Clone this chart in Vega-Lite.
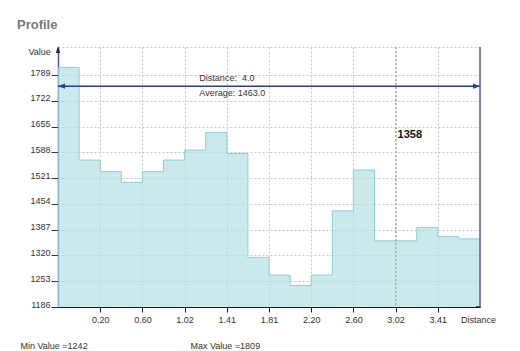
{
  "$schema": "https://vega.github.io/schema/vega-lite/v6.json",
  "width": 422,
  "height": 260,
  "autosize": {"type": "none"},
  "padding": {"left": 58, "top": 47, "right": 40, "bottom": 44},
  "background": "#ffffff",
  "title": {"text": "Profile", "anchor": "start", "frame": "group", "dx": -41, "offset": 14, "font": "Liberation Sans", "fontSize": 13, "fontWeight": "bold", "color": "#747a7a"},
  "config": {
    "font": "Liberation Sans",
    "view": {"stroke": "#c6c6c6", "strokeDash": [2, 2], "strokeWidth": 1},
    "axis": {"labelFont": "Liberation Sans", "labelFontSize": 9, "labelColor": "#333333", "titleFont": "Liberation Sans", "titleFontSize": 9, "titleFontWeight": "normal", "titleColor": "#333333", "labelFlush": false, "labelOverlap": false}
  },
  "datasets": {
    "profile": [
      {"distance": 0.0, "value": 1809},
      {"distance": 0.2, "value": 1568},
      {"distance": 0.4, "value": 1538},
      {"distance": 0.6, "value": 1510},
      {"distance": 0.8, "value": 1538},
      {"distance": 1.0, "value": 1568},
      {"distance": 1.2, "value": 1594},
      {"distance": 1.4, "value": 1640},
      {"distance": 1.6, "value": 1585},
      {"distance": 1.8, "value": 1315},
      {"distance": 2.0, "value": 1269},
      {"distance": 2.2, "value": 1242},
      {"distance": 2.4, "value": 1269},
      {"distance": 2.6, "value": 1436},
      {"distance": 2.8, "value": 1542},
      {"distance": 3.0, "value": 1358},
      {"distance": 3.2, "value": 1358},
      {"distance": 3.4, "value": 1393},
      {"distance": 3.6, "value": 1369},
      {"distance": 3.8, "value": 1363},
      {"distance": 4.0, "value": 1363}
    ],
    "cursor": [{"distance": 3.2, "value": 1358}],
    "measure": [{"start": 0, "end": 4.0, "distance": 4.0, "average": 1463.0}]
  },
  "layer": [
    {
      "data": {"name": "profile"},
      "mark": {"type": "area", "interpolate": "step-after", "color": "#b3dfe3", "clip": true, "line": {"color": "#8ccfd8", "strokeWidth": 1}},
      "encoding": {
        "x": {"field": "distance", "type": "quantitative", "scale": {"domain": [0, 4], "nice": false, "zero": false},
          "axis": {"orient": "bottom", "values": [0.4, 0.8, 1.2, 1.6, 2.0, 2.4, 2.8, 3.2, 3.6], "tickCount": 20,
            "labelExpr": "['0.20','0.60','1.02','1.41','1.81','2.20','2.60','3.02','3.41'][round(datum.value/0.4)-1]",
            "labelOverlap": false,
            "domainColor": "#1a1a1a", "tickColor": "#1a1a1a", "tickSize": 5, "labelPadding": 3,
            "grid": true, "gridColor": "#c6c6c6", "gridDash": [2, 2],
            "title": "Distance", "titleX": 420, "titleY": 8, "titleAlign": "center", "titleBaseline": "top"}},
        "y": {"field": "value", "type": "quantitative", "scale": {"domain": [1186, 1862], "nice": false, "zero": false},
          "axis": {"values": [1186, 1253, 1320, 1387, 1454, 1521, 1588, 1655, 1722, 1789], "format": "d",
            "tickCount": 20, "labelOverlap": false,
            "domainColor": "#4a58a0", "domainWidth": 1.5, "tickColor": "#333333", "tickSize": 7, "labelPadding": 1,
            "labelBaseline": "alphabetic", "grid": true, "gridColor": "#c6c6c6", "gridDash": [2, 2],
            "title": "Value", "titleAngle": 0, "titleX": -30, "titleY": 4, "titleAlign": "left", "titleBaseline": "middle"}}
      }
    },
    {
      "data": {"name": "cursor"},
      "mark": {"type": "rule", "color": "#9ab55a", "strokeDash": [2, 2], "strokeWidth": 1.2},
      "encoding": {
        "x": {"field": "distance", "type": "quantitative",
          "axis": {"orient": "bottom", "domain": false, "ticks": false, "labels": false, "grid": false,
            "title": "Min Value =1242", "titleX": -38, "titleY": 38, "titleAlign": "left", "titleBaseline": "middle"}}
      }
    },
    {
      "data": {"name": "cursor"},
      "mark": {"type": "text", "align": "left", "dx": 2, "fontSize": 11, "fontWeight": "bold", "color": "#111111", "baseline": "middle"},
      "encoding": {
        "x": {"field": "distance", "type": "quantitative", "axis": null},
        "y": {"datum": 1633},
        "text": {"field": "value", "type": "quantitative", "format": "d"}
      }
    },
    {
      "data": {"name": "measure"},
      "mark": {"type": "rule", "color": "#2b3c95", "strokeWidth": 1.5},
      "encoding": {
        "x": {"field": "start", "type": "quantitative", "axis": null},
        "x2": {"field": "end"},
        "y": {"datum": 1760}
      }
    },
    {
      "data": {"name": "measure"},
      "mark": {"type": "point", "shape": "M0,0L2,-0.75L2,0.75Z", "filled": true, "size": 49, "color": "#2b3c95", "opacity": 1},
      "encoding": {
        "x": {"field": "start", "type": "quantitative", "axis": null},
        "y": {"datum": 1760}
      }
    },
    {
      "data": {"name": "measure"},
      "mark": {"type": "point", "shape": "M0,0L-2,-0.75L-2,0.75Z", "filled": true, "size": 49, "color": "#2b3c95", "opacity": 1},
      "encoding": {
        "x": {"field": "end", "type": "quantitative", "axis": null},
        "y": {"datum": 1760}
      }
    },
    {
      "data": {"name": "measure"},
      "mark": {"type": "text", "align": "left", "baseline": "middle", "fontSize": 9, "color": "#333333", "text": "Distance:\u00a0 4.0"},
      "encoding": {
        "x": {"datum": 1.34, "axis": null},
        "y": {"datum": 1781}
      }
    },
    {
      "data": {"name": "measure"},
      "mark": {"type": "text", "align": "left", "baseline": "middle", "fontSize": 9, "color": "#333333", "text": "Average: 1463.0"},
      "encoding": {
        "x": {"datum": 1.34, "axis": null},
        "y": {"datum": 1742}
      }
    },
    {
      "data": {"name": "measure"},
      "mark": {"type": "rule", "color": "#5c5ea6", "strokeWidth": 1.5},
      "encoding": {
        "x": {"field": "end", "type": "quantitative",
          "axis": {"orient": "bottom", "domain": false, "ticks": false, "labels": false, "grid": false,
            "title": "Max Value =1809", "titleX": 132, "titleY": 38, "titleAlign": "left", "titleBaseline": "middle"}}
      }
    },
    {
      "data": {"name": "measure"},
      "mark": {"type": "point", "shape": "M0,-0.3L-0.7,2L0.7,2Z", "filled": true, "size": 36, "color": "#222222", "opacity": 1},
      "encoding": {
        "x": {"field": "start", "type": "quantitative", "axis": null},
        "y": {"datum": 1862}
      }
    },
    {
      "data": {"name": "measure"},
      "mark": {"type": "point", "shape": "M1,0L-2.6,-0.7L-2.6,0.7Z", "filled": true, "size": 9, "color": "#111111", "opacity": 1},
      "encoding": {
        "x": {"field": "end", "type": "quantitative", "axis": null},
        "y": {"datum": 1186}
      }
    }
  ],
  "resolve": {"axis": {"x": "independent"}}
}
